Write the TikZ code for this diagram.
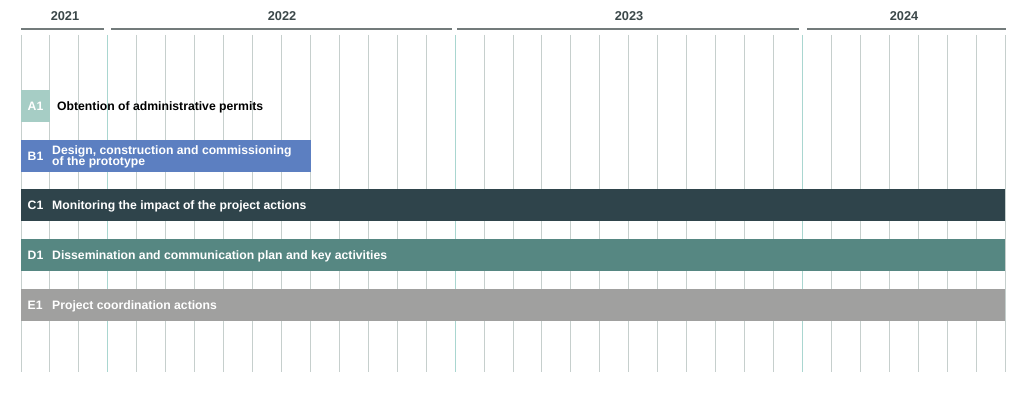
\documentclass[tikz,border=0pt]{standalone}
\usepackage{fontspec}
\setmainfont{Liberation Sans}
\definecolor{gridc}{HTML}{C6CFCD}
\definecolor{yearc}{HTML}{A9D6D0}
\definecolor{headc}{HTML}{737B7B}
\definecolor{yeartxt}{HTML}{3B4749}
\definecolor{cA}{HTML}{A6CDC5}
\definecolor{cB}{HTML}{5C7FC1}
\definecolor{cC}{HTML}{2F444B}
\definecolor{cD}{HTML}{568782}
\definecolor{cE}{HTML}{A0A09F}
\begin{document}
\begin{tikzpicture}[x=1pt,y=-1pt,
  gridline/.style={gridc, line width=1pt},
  yearline/.style={yearc, line width=1pt},
  headline/.style={headc, line width=1.3pt},
  yearlbl/.style={text=yeartxt, font=\bfseries\fontsize{12.8}{13}\selectfont, inner sep=0},
  bar/.style={rectangle, draw=none, inner sep=0, minimum height=32pt, anchor=north west},
  code/.style={text=white, font=\bfseries\fontsize{12.2}{12}\selectfont, anchor=west, inner sep=0},
  task/.style={text=white, font=\bfseries\fontsize{12.2}{10.5}\selectfont, anchor=west, inner sep=0, align=left},
]
\useasboundingbox (0,0) rectangle (1024,393);
% grid
\foreach \i in {0,...,34}{
  \pgfmathsetmacro{\xx}{21+\i*28.941}
  \ifnum\i=3 \draw[yearline] (\xx,35) -- (\xx,372);
  \else\ifnum\i=15 \draw[yearline] (\xx,35) -- (\xx,372);
  \else\ifnum\i=27 \draw[yearline] (\xx,35) -- (\xx,372);
  \else \draw[gridline] (\xx,35) -- (\xx,372);
  \fi\fi\fi
}
% year headers
\coordinate (h1a) at (21,29); \coordinate (h1b) at (104,29);
\coordinate (h2a) at (111,29); \coordinate (h2b) at (452,29);
\coordinate (h3a) at (457,29); \coordinate (h3b) at (799,29);
\coordinate (h4a) at (807,29); \coordinate (h4b) at (1006,29);
\draw[headline] (h1a) -- (h1b);
\draw[headline] (h2a) -- (h2b);
\draw[headline] (h3a) -- (h3b);
\draw[headline] (h4a) -- (h4b);
\node[yearlbl] (y1) at (65,16) {2021};
\node[yearlbl] (y2) at (282,16) {2022};
\node[yearlbl] (y3) at (629,16) {2023};
\node[yearlbl] (y4) at (904,16) {2024};
% bars
\node[bar, fill=cA, minimum width=29pt] (barA) at (21,90) {};
\node[bar, fill=cB, minimum width=290pt] (barB) at (21,140) {};
\node[bar, fill=cC, minimum width=984pt] (barC) at (21,189) {};
\node[bar, fill=cD, minimum width=984pt] (barD) at (21,239) {};
\node[bar, fill=cE, minimum width=984pt] (barE) at (21,289) {};
% codes
\node[code] (kA) at (27.5,106) {A1};
\node[code] (kB) at (27.5,156.5) {B1};
\node[code] (kC) at (27.5,205.5) {C1};
\node[code] (kD) at (27.5,255) {D1};
\node[code] (kE) at (27.5,305) {E1};
% labels
\node[task, text=black] (tA) at (57,107) {Obtention of administrative permits};
\node[task] (tB) at (52,157) {Design, construction and commissioning\\[-1pt]of the prototype};
\node[task] (tC) at (52,206) {Monitoring the impact of the project actions};
\node[task] (tD) at (52,256) {Dissemination and communication plan and key activities};
\node[task] (tE) at (52,306) {Project coordination actions};
\end{tikzpicture}
\end{document}
